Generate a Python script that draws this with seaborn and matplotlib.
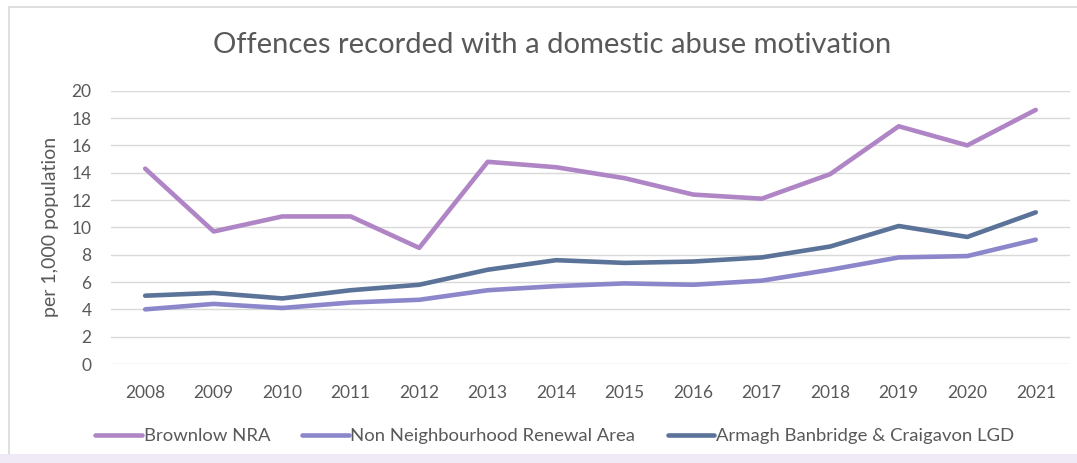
import pandas as pd
import seaborn as sns
import matplotlib.pyplot as plt
from matplotlib.patches import Rectangle
from matplotlib.lines import Line2D

# Data (offences per 1,000 population)
years = list(range(2008, 2022))
brownlow = [14.3, 9.7, 10.8, 10.8, 8.5, 14.8, 14.4, 13.6, 12.4, 12.1, 13.9, 17.4, 16.0, 18.6]
non_nra = [4.0, 4.4, 4.1, 4.5, 4.7, 5.4, 5.7, 5.9, 5.8, 6.1, 6.9, 7.8, 7.9, 9.1]
abc_lgd = [5.0, 5.2, 4.8, 5.4, 5.8, 6.9, 7.6, 7.4, 7.5, 7.8, 8.6, 10.1, 9.3, 11.1]
series_names = ['Brownlow NRA', 'Non Neighbourhood Renewal Area', 'Armagh Banbridge & Craigavon LGD']
colors = ['#B085C6', '#8C86CB', '#5B7299']

df = pd.DataFrame({'year': years * 3,
                   'value': brownlow + non_nra + abc_lgd,
                   'series': [s for s in series_names for _ in years]})

sns.set_theme(style='white')
plt.rcParams['font.family'] = ['Lato', 'DejaVu Sans']
txt = '#595959'

fig = plt.figure(figsize=(10.77, 4.63), dpi=100)
ax = fig.add_axes([0.103, 0.2138, 0.8905, 0.5902])

sns.lineplot(data=df, x='year', y='value', hue='series', palette=colors,
             linewidth=3.3, ax=ax, legend=False, solid_capstyle='round')

ax.set_xlim(2007.5, 2021.5)
ax.set_ylim(0, 20)
ax.set_yticks(range(0, 21, 2))
ax.set_xticks(years)
ax.set_xticklabels([str(y) for y in years])
ax.grid(axis='y', color='#d9d9d9', linewidth=1)
ax.set_axisbelow(True)
for sp in ax.spines.values():
    sp.set_visible(False)
ax.tick_params(axis='both', colors=txt, labelsize=12.5, length=0)
ax.tick_params(axis='x', pad=15)
ax.tick_params(axis='y', pad=14)
ax.set_xlabel('')
ax.set_ylabel('per 1,000 population', color=txt, fontsize=14, labelpad=9)

fig.text(0.513, 0.903, 'Offences recorded with a domestic abuse motivation', color=txt,
         fontsize=21, ha='center', va='center')

handles = [Line2D([], [], color=c, lw=3.3) for c in colors]
fig.legend(handles, series_names, loc='center', bbox_to_anchor=(0.515, 0.058), ncol=3,
           frameon=False, fontsize=13.3, labelcolor=txt, handlelength=2.5,
           handletextpad=0.1, columnspacing=1.75)

# chart frame and bottom tint
fig.add_artist(Line2D([9 / 1077, 9 / 1077], [0.02, 1 - 7 / 463], color='#d9d9d9', lw=1.2))
fig.add_artist(Line2D([9 / 1077, 1], [1 - 7 / 463, 1 - 7 / 463], color='#d9d9d9', lw=1.2))
fig.add_artist(Rectangle((0, 0), 1, 0.02, color='#f0eaf6', lw=0))

fig.savefig('out.png', dpi=100)
